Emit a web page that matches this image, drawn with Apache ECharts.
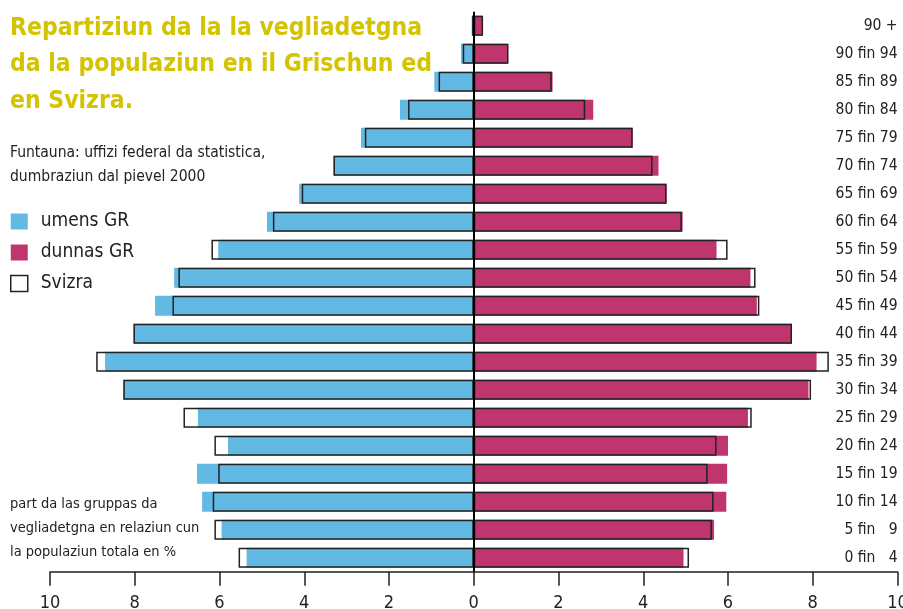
<!DOCTYPE html>
<html lang="rm">
<head>
    <meta charset="UTF-8">
    <title>Repartiziun da la vegliadetgna</title>
    <script src="https://cdn.jsdelivr.net/npm/echarts@6/dist/echarts.min.js"></script>
    <style>
        html, body { margin: 0; padding: 0; background: #fff; }
        #main { width: 903px; height: 609px; }
    </style>
</head>
<body>
<div id="main"></div>
<script>
    // gruppas da vegliadetgna, dal giu ensi
    var ages = ['0 fin   4', '5 fin   9', '10 fin 14', '15 fin 19', '20 fin 24', '25 fin 29',
        '30 fin 34', '35 fin 39', '40 fin 44', '45 fin 49', '50 fin 54', '55 fin 59',
        '60 fin 64', '65 fin 69', '70 fin 74', '75 fin 79', '80 fin 84', '85 fin 89',
        '90 fin 94', '90 +'];
    // part en % da la populaziun totala
    var menGR   = [5.36, 5.95, 6.41, 6.53, 5.80, 6.51, 8.27, 8.70, 8.03, 7.52, 7.07, 6.03, 4.88, 4.12, 3.31, 2.66, 1.74, 0.93, 0.30, 0.05];
    var menCH   = [5.55, 6.12, 6.16, 6.03, 6.12, 6.85, 8.27, 8.91, 8.03, 7.11, 6.97, 6.19, 4.74, 4.06, 3.31, 2.57, 1.55, 0.83, 0.26, 0.04];
    var womenGR = [4.95, 5.67, 5.96, 5.98, 6.00, 6.47, 7.90, 8.09, 7.51, 6.68, 6.53, 5.73, 4.93, 4.55, 4.36, 3.75, 2.82, 1.86, 0.80, 0.21];
    var womenCH = [5.08, 5.62, 5.66, 5.52, 5.73, 6.56, 7.96, 8.38, 7.51, 6.74, 6.65, 5.99, 4.91, 4.55, 4.22, 3.75, 2.63, 1.84, 0.82, 0.22];
    var xTicks = [-10, -8, -6, -4, -2, 0, 2, 4, 6, 8, 10];

    var FONT = '"DejaVu Sans Condensed", "Liberation Sans", sans-serif';
    var BLUE = '#62b9e4', PINK = '#c0356e', INK = '#222';

    var outline = { color: 'rgba(0,0,0,0)', borderColor: INK, borderWidth: 1.5 };

    var myChart = echarts.init(document.getElementById('main'));
    var option = {
        animation: false,
        textStyle: { fontFamily: FONT },
        title: {
            text: 'Repartiziun da la la vegliadetgna\nda la populaziun en il Grischun ed\nen Svizra.',
            subtext: 'Funtauna: uffizi federal da statistica,\ndumbraziun dal pievel 2000',
            left: 10, top: 10, padding: 0, itemGap: 21,
            textStyle: { fontFamily: FONT, fontSize: 24.5, fontWeight: 'bold', color: '#d4c300', lineHeight: 36.5 },
            subtextStyle: { fontFamily: FONT, fontSize: 15.5, color: INK, lineHeight: 24 }
        },
        legend: {
            orient: 'vertical', left: 10, top: 212, padding: 0,
            itemWidth: 17, itemHeight: 16, itemGap: 12,
            textStyle: { fontFamily: FONT, fontSize: 19, color: INK, padding: [0, 0, 0, 8] },
            data: [
                { name: 'umens GR', icon: 'rect' },
                { name: 'dunnas GR', icon: 'rect' },
                { name: 'Svizra', icon: 'rect', itemStyle: { color: '#fff', borderColor: INK, borderWidth: 1.5 } }
            ]
        },
        graphic: [{
            type: 'text', left: 10, top: 492,
            style: {
                text: 'part da las gruppas da\nvegliadetgna en relaziun cun\nla populaziun totala en %',
                font: '14.5px ' + FONT, fill: INK, lineHeight: 24
            }
        }],
        grid: { left: 50, right: 5.5, top: 11.7, bottom: 37.3, outerBoundsMode: 'none' },
        xAxis: {
            type: 'value', min: xTicks[0], max: xTicks[xTicks.length - 1], interval: 2,
            axisLine: { show: true, lineStyle: { color: INK, width: 1.5 } },
            axisTick: { show: true, length: 14, lineStyle: { color: INK, width: 1.5 } },
            axisLabel: { fontSize: 18, color: INK, margin: 23, formatter: function (v) { return Math.abs(v); } },
            splitLine: { show: false }
        },
        yAxis: {
            type: 'category', data: ages, position: 'right',
            axisLine: { show: false }, axisTick: { show: false },
            axisLabel: { inside: true, margin: 0, fontSize: 15.5, color: INK }
        },
        series: [
            {
                name: 'umens GR', type: 'bar', barWidth: 20, barGap: '-100%',
                itemStyle: { color: BLUE },
                data: menGR.map(function (v) { return -v; })
            },
            {
                name: 'dunnas GR', type: 'bar', barWidth: 20, barGap: '-100%',
                itemStyle: { color: PINK },
                data: womenGR
            },
            {
                name: 'Svizra', type: 'bar', barWidth: 20, barGap: '-100%',
                itemStyle: outline,
                data: menCH.map(function (v) { return -v; })
            },
            {
                name: 'Svizra', type: 'bar', barWidth: 20, barGap: '-100%',
                itemStyle: outline,
                data: womenCH,
                markLine: {
                    silent: true, symbol: 'none', label: { show: false },
                    lineStyle: { color: '#000', width: 2, type: 'solid' },
                    data: [{ xAxis: 0 }]
                }
            }
        ]
    };
    myChart.setOption(option);
</script>
</body>
</html>
